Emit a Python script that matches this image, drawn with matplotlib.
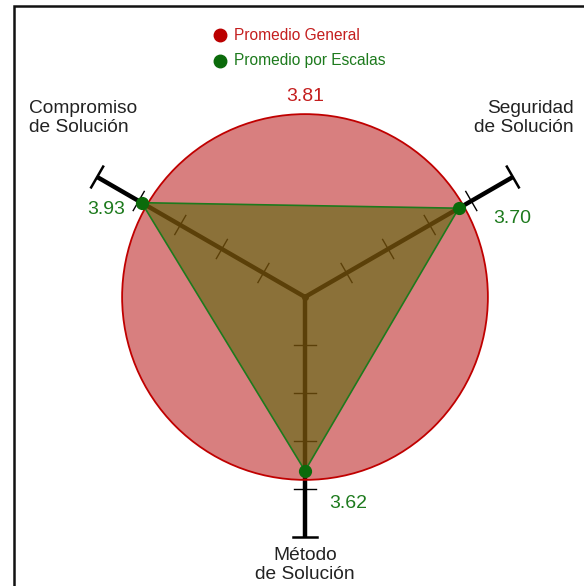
"""Radar-style chart: general mean (circle) vs. per-scale means (triangle)."""

import numpy as np
import matplotlib
matplotlib.use("Agg")
import matplotlib.pyplot as plt
from matplotlib.patches import Circle, Polygon, Rectangle

# data
SCALES = ["Compromiso\nde Solución", "Seguridad\nde Solución", "Método\nde Solución"]
ANGLES_DEG = [150, 30, 270]
SCALE_MEANS = [3.93, 3.70, 3.62]
GENERAL_MEAN = 3.81
SCALE_MAX = 5
TICKS = [1, 2, 3, 4]

RED, RED_TXT = "#b30000", "#c41e1e"
GREEN, GREEN_TXT = "#0b6b0b", "#1d7a1d"
OLIVE = "#5d690f"
plt.rcParams["font.family"] = ["Liberation Sans", "DejaVu Sans"]

W, H, DPI = 584, 586, 100
CX, CY, PPU = 305, 297, 48  # centre in pixels, pixels per unit


def to_data(px, py):
    return (px - CX) / PPU, (CY - py) / PPU


fig = plt.figure(figsize=(W / DPI, H / DPI), dpi=DPI)
ax = fig.add_axes([0, 0, 1, 1])
ax.set_xlim(-CX / PPU, (W - CX) / PPU)
ax.set_ylim(-(H - CY) / PPU, CY / PPU)
ax.axis("off")

# frame (left / top edges visible)
fig.patches.append(Rectangle((14 / W, -0.05), 1.1, 1 - 6 / H + 0.05, transform=fig.transFigure,
                             fill=False, ec="#111111", lw=1.8))

ang = np.radians(ANGLES_DEG)
ux, uy = np.cos(ang), np.sin(ang)

# axes with ticks
for dx, dy in zip(ux, uy):
    ax.plot([0, SCALE_MAX * dx], [0, SCALE_MAX * dy], color="black", lw=3.2,
            solid_capstyle="butt", zorder=1)
    px_, py_ = -dy, dx
    for t in TICKS:
        h = 0.23
        ax.plot([t * dx - h * px_, t * dx + h * px_], [t * dy - h * py_, t * dy + h * py_],
                color="black", lw=1.0, zorder=1)
    h = 0.25
    ax.plot([SCALE_MAX * dx - h * px_, SCALE_MAX * dx + h * px_],
            [SCALE_MAX * dy - h * py_, SCALE_MAX * dy + h * py_], color="black", lw=1.8, zorder=1)
ax.plot(0, 0, "o", color="black", ms=4, zorder=1)

# general mean circle
ax.add_patch(Circle((0, 0), GENERAL_MEAN, fc=RED, alpha=0.5, ec="none", zorder=2))
ax.add_patch(Circle((0, 0), GENERAL_MEAN, fill=False, ec="#c00000", lw=1.3, zorder=4))

# per-scale triangle
vals = np.array(SCALE_MEANS)
xs, ys = vals * ux, vals * uy
ax.add_patch(Polygon(np.column_stack([xs, ys]), closed=True, fc=OLIVE, alpha=0.62, ec="none", zorder=3))
ax.add_patch(Polygon(np.column_stack([xs, ys]), closed=True, fill=False, ec=GREEN_TXT, lw=1.2, zorder=5))
ax.plot(xs, ys, "o", color=GREEN, ms=8.5, zorder=6)

# labels
lab = dict(fontsize=13.8, color="#222222", linespacing=1.15, va="center")
ax.text(*to_data(29, 118), SCALES[0], ha="left", **lab)
ax.text(*to_data(574, 118), SCALES[1], ha="right", **lab)
ax.text(*to_data(305, 565), SCALES[2], ha="center", **lab)

ax.text(*to_data(305, 97), f"{GENERAL_MEAN:.2f}", ha="center", va="center", fontsize=14, color=RED_TXT)
for (lx, ly), v in zip([(106, 210), (512, 219), (348, 503)], SCALE_MEANS):
    ax.text(*to_data(lx, ly), f"{v:.2f}", ha="center", va="center", fontsize=14, color=GREEN_TXT)

# legend
ax.plot(*to_data(220, 35), "o", color="#bb0000", ms=9)
ax.text(*to_data(234, 35), "Promedio General", ha="left", va="center", fontsize=11.2, color=RED_TXT)
ax.plot(*to_data(220, 61), "o", color=GREEN, ms=9)
ax.text(*to_data(234, 61), "Promedio por Escalas", ha="left", va="center", fontsize=11.2, color=GREEN_TXT)

fig.savefig("out.png", dpi=DPI)
